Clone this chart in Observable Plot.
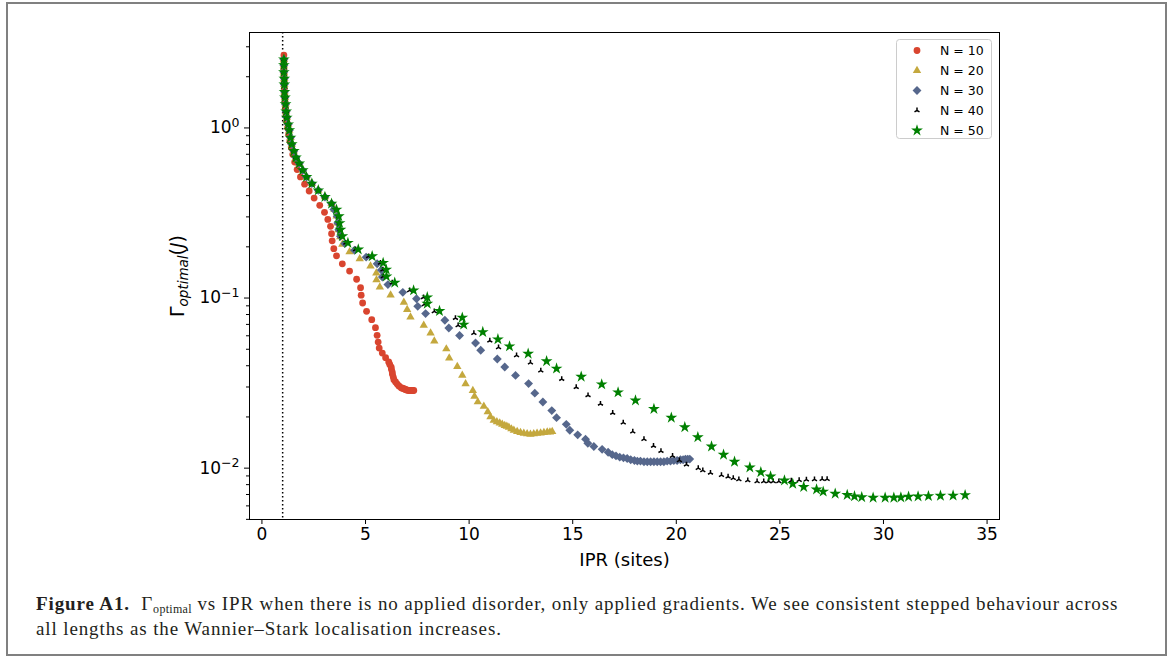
<!DOCTYPE html>
<html><head><meta charset="utf-8">
<script src="https://cdn.jsdelivr.net/npm/d3@7"></script>
<script src="https://cdn.jsdelivr.net/npm/@observablehq/plot@0.6"></script>
<style>
body{margin:0;background:#fff;}
#page{position:relative;width:1174px;height:659px;overflow:hidden;background:#fff;}
#border{position:absolute;left:6px;top:2px;width:1157px;height:650px;border:2px solid #808080;}
#chart{position:absolute;left:0;top:0;}
#caption{position:absolute;left:36px;top:591px;font-family:"Liberation Serif",serif;font-size:19px;letter-spacing:0.88px;line-height:25px;white-space:nowrap;color:#231f20;}
#caption sub{font-size:12px;letter-spacing:0.3px;vertical-align:-3px;line-height:0;}
</style></head><body>
<div id="page"><div id="border"></div><div id="chart"></div>
<div id="caption"><b>Figure A1.</b>&nbsp;&nbsp;Γ<sub>optimal</sub> vs IPR when there is no applied disorder, only applied gradients. We see consistent stepped behaviour across<br>all lengths as the Wannier–Stark localisation increases.</div>
</div>
<script>
// ---- data: [IPR (sites), Gamma_optimal (J)] ----
const headPoints = [[1.06,2.53],[1.06,2.34],[1.06,2.13],[1.08,1.95],[1.08,1.80],[1.09,1.63],[1.11,1.51],[1.14,1.38],[1.17,1.25],[1.20,1.15],[1.27,1.05],[1.32,0.969],[1.38,0.878],[1.44,0.802],[1.54,0.732],[1.64,0.670],[1.80,0.618],[1.97,0.564],[2.15,0.515],[2.41,0.471],[2.72,0.430],[3.04,0.393],[3.36,0.359]];

const n10 = [[1.06,2.68],[1.06,2.45],[1.06,2.24],[1.07,2.05],[1.07,1.87],[1.08,1.71],[1.09,1.56],[1.11,1.43],[1.13,1.31],[1.16,1.19],[1.20,1.09],[1.24,1.00],[1.29,0.914],[1.35,0.835],[1.42,0.764],[1.49,0.698],[1.58,0.630],[1.70,0.569],[1.86,0.515],[2.06,0.467],[2.28,0.426],[2.52,0.387],[2.79,0.351],[3.02,0.319],[3.18,0.290],[3.31,0.264],[3.36,0.239],[3.39,0.217],[3.47,0.195],[3.60,0.177],[3.88,0.159],[4.23,0.144],[4.57,0.129],[4.76,0.115],[4.79,0.104],[4.86,0.0935],[5.05,0.0835],[5.30,0.0746],[5.48,0.0670],[5.56,0.0604],[5.61,0.0551],[5.66,0.0508],[5.81,0.0475],[5.97,0.0446],[6.12,0.0421],[6.17,0.0407],[6.24,0.0393],[6.25,0.0381],[6.29,0.0367],[6.30,0.0356],[6.34,0.0343],[6.37,0.0331],[6.45,0.0321],[6.53,0.0312],[6.61,0.0304],[6.72,0.0297],[6.78,0.0295],[6.85,0.0293],[6.90,0.0291],[6.96,0.0289],[7.02,0.0287],[7.09,0.0286],[7.15,0.0286],[7.21,0.0286],[7.27,0.0286],[7.33,0.0286]];

const n20 = [[3.50,0.331],[3.60,0.303],[3.65,0.276],[3.70,0.252],[3.78,0.229],[3.88,0.207],[4.23,0.187],[4.72,0.170],[5.24,0.154],[5.52,0.140],[5.53,0.128],[5.69,0.116],[6.21,0.104],[6.85,0.0944],[7.01,0.0855],[7.17,0.0773],[7.81,0.0691],[8.14,0.0622],[8.32,0.0558],[8.90,0.0502],[9.04,0.0444],[9.43,0.0396],[9.67,0.0351],[9.83,0.0313],[10.18,0.0286],[10.26,0.0264],[10.42,0.0245],[10.71,0.0231],[10.90,0.0214],[11.03,0.0200],[11.19,0.0191],[11.34,0.0187],[11.48,0.0184],[11.60,0.0181],[11.72,0.0178],[11.82,0.0176],[11.92,0.0174],[12.04,0.0170],[12.16,0.0167],[12.32,0.0164],[12.48,0.0162],[12.64,0.0160],[12.80,0.0159],[12.96,0.0158],[13.12,0.0159],[13.28,0.0160],[13.45,0.0161],[13.61,0.0162],[13.77,0.0163],[13.90,0.0163],[14.01,0.0164]];

const n30 = [[3.47,0.331],[3.63,0.303],[3.66,0.276],[3.71,0.252],[3.79,0.231],[4.00,0.209],[4.47,0.191],[5.03,0.174],[5.56,0.159],[5.76,0.146],[5.81,0.133],[6.08,0.120],[6.80,0.108],[7.46,0.0991],[7.52,0.0894],[7.90,0.0810],[8.83,0.0740],[9.02,0.0667],[9.54,0.0602],[10.31,0.0544],[10.56,0.0493],[11.36,0.0438],[11.72,0.0393],[12.24,0.0351],[12.87,0.0314],[13.17,0.0276],[13.56,0.0245],[13.99,0.0218],[14.22,0.0198],[14.69,0.0181],[14.86,0.0167],[15.24,0.0157],[15.62,0.0148],[15.73,0.0140],[16.02,0.0134],[16.42,0.0129],[16.71,0.0124],[16.91,0.0120],[17.09,0.0118],[17.27,0.0116],[17.45,0.0115],[17.63,0.0114],[17.80,0.0112],[17.98,0.0111],[18.12,0.0110],[18.27,0.0110],[18.44,0.0109],[18.60,0.0109],[18.76,0.0109],[18.92,0.0109],[19.08,0.0109],[19.24,0.0109],[19.40,0.0109],[19.56,0.0110],[19.72,0.0110],[19.88,0.0111],[20.04,0.0111],[20.20,0.0112],[20.33,0.0112],[20.44,0.0113],[20.55,0.0113],[20.65,0.0113]];

const n40 = [[3.60,0.331],[3.70,0.303],[3.73,0.276],[3.77,0.252],[3.84,0.231],[4.05,0.211],[4.52,0.193],[5.15,0.176],[5.72,0.161],[5.84,0.147],[5.86,0.134],[6.29,0.123],[7.13,0.111],[7.80,0.101],[7.84,0.0918],[8.32,0.0835],[9.34,0.0763],[9.47,0.0691],[10.23,0.0622],[11.00,0.0561],[11.42,0.0513],[12.29,0.0460],[12.96,0.0417],[13.46,0.0374],[14.47,0.0334],[15.17,0.0299],[15.74,0.0268],[16.34,0.0239],[16.93,0.0211],[17.44,0.0185],[17.90,0.0164],[18.44,0.0148],[18.90,0.0135],[19.26,0.0126],[19.82,0.0118],[20.15,0.0111],[20.49,0.0105],[21.06,0.0100],[21.28,0.00969],[21.65,0.00939],[22.18,0.00910],[22.50,0.00890],[22.75,0.00873],[23.02,0.00858],[23.45,0.00847],[23.90,0.00836],[24.22,0.00836],[24.46,0.00836],[24.68,0.00836],[24.95,0.00836],[25.55,0.00843],[25.93,0.00850],[26.28,0.00855],[26.67,0.00858],[27.04,0.00861],[27.28,0.00861]];

const n50 = [[3.60,0.331],[3.71,0.303],[3.75,0.276],[3.79,0.252],[3.88,0.231],[4.15,0.211],[4.65,0.193],[5.32,0.176],[5.85,0.161],[6.00,0.147],[6.01,0.134],[6.41,0.123],[7.32,0.111],[7.98,0.101],[7.98,0.0927],[8.57,0.0839],[9.67,0.0767],[9.74,0.0698],[10.66,0.0631],[11.39,0.0572],[11.95,0.0520],[12.85,0.0471],[13.74,0.0425],[14.22,0.0385],[15.41,0.0345],[16.40,0.0311],[17.19,0.0279],[18.03,0.0250],[18.92,0.0223],[19.76,0.0198],[20.41,0.0174],[21.04,0.0152],[21.70,0.0134],[22.28,0.0120],[22.81,0.0109],[23.55,0.0101],[24.08,0.00947],[24.55,0.00893],[25.22,0.00847],[25.62,0.00809],[26.15,0.00775],[26.77,0.00750],[27.09,0.00728],[27.67,0.00708],[28.25,0.00696],[28.60,0.00683],[28.95,0.00675],[29.50,0.00670],[30.08,0.00670],[30.50,0.00670],[30.84,0.00673],[31.21,0.00679],[31.67,0.00682],[32.17,0.00685],[32.75,0.00688],[33.36,0.00690],[33.94,0.00694]];

const seriesLabels = ["N = 10","N = 20","N = 30","N = 40","N = 50"];
const seriesColors = ["#d9452f","#c4a83e","#56678c","#000000","#008000"];
const xTicks = [0,5,10,15,20,25,30,35];
const yMajorTicks = [1,0.1,0.01];
const yExponents = ["0","−1","−2"];
const yMinorTicks = [0.005,0.006,0.007,0.008,0.009,0.02,0.03,0.04,0.05,0.06,0.07,0.08,0.09,0.2,0.3,0.4,0.5,0.6,0.7,0.8,0.9,2,3];
const dottedLineAt = [1];

// ---- symbols ----
const triUp = {draw(ctx, size){const r=Math.sqrt(size/Math.PI);ctx.moveTo(0,0);ctx.lineTo(0,-r);ctx.moveTo(0,0);ctx.lineTo(-r*0.866,r*0.5);ctx.moveTo(0,0);ctx.lineTo(r*0.866,r*0.5);}};
const styles = [
  {symbol:"circle", d3sym:d3.symbolCircle, r:3.4, fill:seriesColors[0], stroke:"none", sw:0},
  {symbol:"triangle", d3sym:d3.symbolTriangle, r:3.1, fill:seriesColors[1], stroke:"none", sw:0},
  {symbol:"diamond2", d3sym:d3.symbolDiamond2, r:4.0, fill:seriesColors[2], stroke:"none", sw:0},
  {symbol:triUp, d3sym:triUp, r:2.9, fill:"none", stroke:seriesColors[3], sw:1.5},
  {symbol:"star", d3sym:d3.symbolStar, r:3.7, fill:seriesColors[4], stroke:"none", sw:0}
];
const toRows = (arr) => arr.map(([ipr, g]) => ({ipr, g}));
const allSeries = [n10, headPoints.concat(n20), headPoints.concat(n30), headPoints.concat(n40), headPoints.concat(n50)];

const dotMarks = allSeries.map((s, i) => Plot.dot(toRows(s), {
  x: "ipr", y: "g", r: styles[i].r, symbol: styles[i].symbol,
  fill: styles[i].fill, stroke: styles[i].stroke, strokeWidth: styles[i].sw
}));

const chart = Plot.plot({
  width: 1174, height: 575,
  marginLeft: 249, marginRight: 175, marginTop: 32, marginBottom: 56,
  style: {fontFamily: "DejaVu Sans", fontSize: "17px", color: "black", background: "transparent"},
  x: {domain: [-0.6, 35.6]},
  y: {type: "log", domain: [0.00499, 3.64]},
  marks: [
    Plot.ruleX(dottedLineAt, {stroke: "black", strokeWidth: 1.5, strokeDasharray: "1.5,2.5"}),
    ...dotMarks,
    Plot.frame({stroke: "black", strokeWidth: 1}),
    Plot.axisX({ticks: xTicks, tickSize: 5, tickPadding: 3, label: null, tickFormat: d => String(d)}),
    Plot.axisY({ticks: yMajorTicks, tickSize: 5, tickPadding: 5, label: null,
      tickFormat: d => "10^" + yExponents[yMajorTicks.indexOf(d)]}),
    Plot.axisY({ticks: yMinorTicks, tickSize: 3, label: null, tickFormat: () => ""}),
    Plot.text(["IPR (sites)"], {frameAnchor: "bottom", dy: 41, lineAnchor: "middle", fontSize: 18})
  ]
});
document.getElementById("chart").appendChild(chart);

const svg = d3.select(chart);
// rewrite y tick labels as 10 with a superscript exponent
svg.selectAll("text").each(function() {
  const t = d3.select(this);
  const s = t.text();
  if (s.startsWith("10^")) {
    const ex = s.slice(3);
    t.text("");
    t.append("tspan").text("10");
    t.append("tspan").attr("font-size", "12.5px").attr("dy", "-0.55em").text(ex);
  }
});
// y-axis label
const yl = svg.append("text").attr("transform", "translate(184,276) rotate(-90)")
  .attr("text-anchor", "middle").attr("fill", "black")
  .style("font-family", "DejaVu Sans").style("font-size", "19px");
yl.append("tspan").text("Γ");
yl.append("tspan").attr("font-style", "italic").attr("font-size", "13.5px").attr("dy", 4).text("optimal");
yl.append("tspan").attr("dy", -4).text("(");
yl.append("tspan").attr("font-style", "italic").text("J");
yl.append("tspan").text(")");

// legend
const lg = svg.append("g");
lg.append("rect").attr("x", 896.5).attr("y", 39.5).attr("width", 95).attr("height", 99).attr("rx", 3)
  .attr("fill", "white").attr("fill-opacity", 0.8).attr("stroke", "#cccccc");
seriesLabels.forEach((lab, i) => {
  const yy = 50.5 + i * 20;
  const st = styles[i];
  lg.append("path").attr("transform", `translate(917,${yy})`)
    .attr("d", d3.symbol(st.d3sym, Math.PI * st.r * st.r)())
    .attr("fill", st.fill).attr("stroke", st.stroke).attr("stroke-width", st.sw);
  lg.append("text").attr("x", 940).attr("y", yy).attr("dy", "0.35em").attr("text-anchor", "start")
    .style("font-family", "DejaVu Sans").style("font-size", "12.5px").attr("fill", "black").text(lab);
});
</script>
</body></html>
